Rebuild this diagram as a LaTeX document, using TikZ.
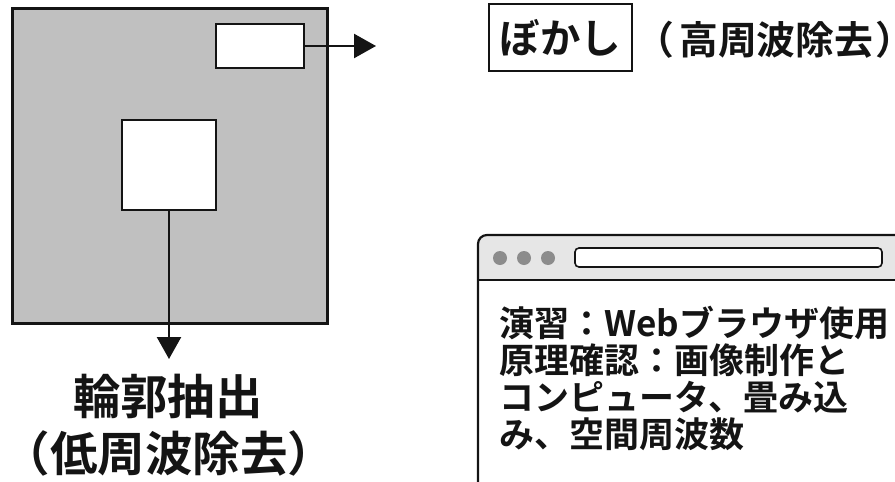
\documentclass[tikz,border=0pt]{standalone}
\usepackage{fontspec}
\usetikzlibrary{arrows.meta}
\newfontfamily\jp{Noto Sans CJK JP Medium}[BoldFont={Noto Sans CJK JP Bold}]
\newfontfamily\jph{Noto Sans CJK JP Medium}[BoldFont={Noto Sans CJK JP Bold}, RawFeature=+halt]
\definecolor{imggray}{RGB}{192,192,192}
\definecolor{titlegray}{RGB}{230,230,230}
\definecolor{dotgray}{RGB}{140,140,140}
\definecolor{ink}{RGB}{20,20,20}
\tikzset{
  rectbox/.style={draw=ink, line width=2.4pt, fill=white, inner sep=0pt},
  arr/.style={draw=ink, line width=2.4pt, -{Triangle[length=22pt,width=24pt]}},
  bigtxt/.style={font=\jp\bfseries\fontsize{47.5}{50}\selectfont, text=ink, inner sep=0pt},
  toptxt/.style={font=\jph\bfseries\fontsize{38.8}{42}\selectfont, text=ink, inner sep=0pt},
  webtxt/.style={font=\jp\bfseries\fontsize{35}{37}\selectfont, text=ink, inner sep=0pt, anchor=base west},
}
\begin{document}
\begin{tikzpicture}[x=1pt,y=-1pt]
\useasboundingbox (0,0) rectangle (895,482);
% image square
\node[draw=ink, line width=3pt, fill=imggray, minimum width=315pt, minimum height=315pt, inner sep=0pt] (img) at (169.5,165.5) {};
\node[rectbox, minimum width=88pt, minimum height=44pt] (hf) at (260,46) {};
\node[rectbox, minimum width=94pt, minimum height=90pt] (lf) at (169,165) {};
\coordinate (hfend) at (376,46);
\coordinate (lfend) at (169,359);
\draw[arr] (hf.east) -- (hfend);
\draw[arr] (lf.south) -- (lfend);
% bottom-left labels
\node[bigtxt] (edge) at (168,396) {輪郭抽出};
\node[bigtxt] (lowcut) at (169,453) {（低周波除去）};
% top-right labels
\node[draw=ink, line width=2.4pt, minimum width=143pt, minimum height=67pt, inner sep=0pt,
      font=\jp\bfseries\fontsize{40.5}{43}\selectfont, text=ink] (blur) at (560.5,37.5) {ぼかし};
\node[toptxt, anchor=west] (highcut) at (655,40) {（\kern0.12em 高周波除去\kern0.05em）};
% browser window
\begin{scope}
\clip (0,0) rectangle (895,482);
\fill[white, rounded corners=9pt] (478,235) rectangle (920,500);
\fill[titlegray] (478,280) [rounded corners=9pt] -- (478,235) -- (920,235) [sharp corners] -- (920,280) -- cycle;
\draw[ink, line width=2.2pt, rounded corners=9pt] (478,500) -- (478,235) -- (920,235) -- (920,500);
\draw[ink, line width=2pt] (478,280) -- (920,280);
\fill[dotgray] (500,258) circle (7pt);
\fill[dotgray] (524,258) circle (7pt);
\fill[dotgray] (548,258) circle (7pt);
\draw[ink, line width=1.6pt, fill=white, rounded corners=4pt] (575,248) rectangle (882,267);
\end{scope}
\node[webtxt] (l1) at (499,336) {演習：Webブラウザ使用};
\node[webtxt] (l2) at (499,373) {原理確認：画像制作と};
\node[webtxt] (l3) at (499,410) {コンピュータ、畳み込};
\node[webtxt] (l4) at (499,447) {み、空間周波数};
\end{tikzpicture}
\end{document}
